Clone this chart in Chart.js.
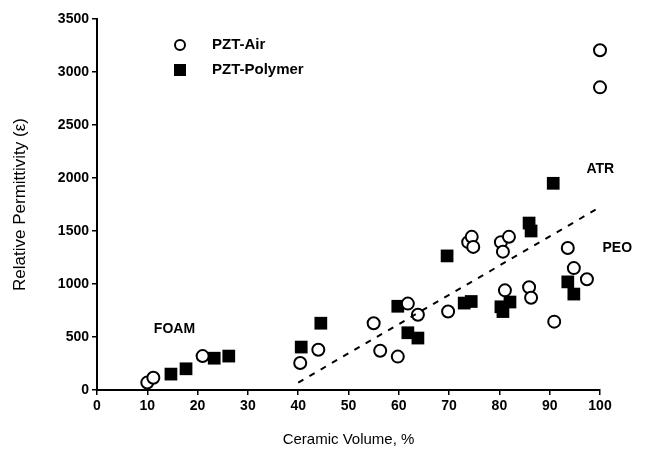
<!DOCTYPE html>
<html>
<head>
<meta charset="utf-8">
<script src="https://cdn.jsdelivr.net/npm/chart.js@4/dist/chart.umd.min.js"></script>
<style>
  html, body { margin: 0; padding: 0; background: #fff; }
  #wrap { width: 645px; height: 453px; }
</style>
</head>
<body>
<div id="wrap"><canvas id="chart" width="645" height="453"></canvas></div>
<script>
// PZT-Air (open circles)
const airX = [10, 11.2, 21, 40.4, 44, 55, 56.3, 59.8, 61.8, 63.8, 69.8, 73.8, 74.5, 74.8, 80.3, 81.9, 80.7, 81.1, 85.9, 86.3, 90.9, 93.6, 94.8, 97.4, 100, 100];
const airY = [70, 115, 320, 255, 380, 630, 370, 315, 815, 710, 740, 1395, 1445, 1350, 1395, 1445, 1305, 940, 970, 870, 645, 1340, 1150, 1045, 3205, 2855];

// PZT-Polymer (filled squares)
const polyX = [14.7, 17.7, 23.3, 26.2, 40.6, 44.5, 59.8, 61.8, 63.8, 69.6, 73, 74.4, 80.3, 80.7, 82.1, 85.9, 86.3, 90.7, 93.6, 94.8];
const polyY = [150, 200, 300, 320, 405, 630, 790, 540, 490, 1265, 820, 835, 785, 740, 830, 1575, 1500, 1950, 1020, 905];

// dashed trend line
const trendX = [40, 100];
const trendY = [70, 1725];

const xTicks = [0, 10, 20, 30, 40, 50, 60, 70, 80, 90, 100];
const yTicks = [0, 500, 1000, 1500, 2000, 2500, 3000, 3500];

const seriesNames = ['PZT-Air', 'PZT-Polymer'];
const notes = [
  { text: 'FOAM', x: 11.3, y: 570 },
  { text: 'ATR', x: 97.3, y: 2085 },
  { text: 'PEO', x: 100.5, y: 1335 }
];

function pts(xs, ys) { return xs.map((x, i) => ({ x: x, y: ys[i] })); }

const fontFam = "'Liberation Sans', Arial, sans-serif";

const extras = {
  id: 'extras',
  afterDatasetsDraw(chart) {
    const ctx = chart.ctx;
    const xs = chart.scales.x, ys = chart.scales.y;
    ctx.save();
    ctx.fillStyle = '#000';
    ctx.font = 'bold 14px ' + fontFam;
    ctx.textBaseline = 'middle';
    notes.forEach(n => {
      ctx.fillText(n.text, xs.getPixelForValue(n.x), ys.getPixelForValue(n.y));
    });
    // legend
    ctx.font = 'bold 15px ' + fontFam;
    const lx = 180, ly = [45, 70];
    ctx.lineWidth = 2;
    ctx.strokeStyle = '#000';
    ctx.fillStyle = '#fff';
    ctx.beginPath();
    ctx.arc(lx, ly[0], 5, 0, Math.PI * 2);
    ctx.fill();
    ctx.stroke();
    ctx.fillStyle = '#000';
    ctx.fillRect(lx - 6, ly[1] - 6, 12, 12);
    ctx.fillText(seriesNames[0], 212, ly[0]);
    ctx.fillText(seriesNames[1], 212, ly[1]);
    ctx.restore();
  }
};

new Chart(document.getElementById('chart'), {
  type: 'scatter',
  data: {
    datasets: [
      {
        label: 'trend',
        type: 'line',
        data: pts(trendX, trendY),
        borderColor: '#000',
        borderWidth: 2,
        borderDash: [6, 7],
        pointRadius: 0,
        fill: false
      },
      {
        label: seriesNames[0],
        data: pts(airX, airY),
        pointStyle: 'circle',
        pointRadius: 6,
        pointBorderWidth: 2,
        pointBackgroundColor: '#fff',
        pointBorderColor: '#000'
      },
      {
        label: seriesNames[1],
        data: pts(polyX, polyY),
        pointStyle: 'rect',
        pointRadius: 9,
        pointBorderWidth: 0,
        pointBackgroundColor: '#000',
        pointBorderColor: '#000'
      }
    ]
  },
  options: {
    responsive: false,
    animation: { duration: 0 },
    clip: false,
    layout: { padding: { top: 19, right: 45, left: 0, bottom: 0 } },
    plugins: { legend: { display: false }, tooltip: { enabled: false } },
    scales: {
      x: {
        type: 'linear',
        min: 0,
        max: 100,
        afterBuildTicks: s => { s.ticks = xTicks.map(v => ({ value: v })); },
        afterFit: s => { s.height = 63; },
        border: { display: true, color: '#000', width: 2 },
        grid: { display: true, drawOnChartArea: false, drawTicks: true, tickLength: 5, color: '#000', lineWidth: 1.5 },
        ticks: { color: '#000', font: { family: fontFam, size: 14, weight: 'bold' }, padding: 3, maxRotation: 0, callback: v => String(v) },
        title: { display: true, text: 'Ceramic Volume, %', color: '#000', font: { family: fontFam, size: 15 }, padding: { top: 5 } }
      },
      y: {
        type: 'linear',
        min: 0,
        max: 3500,
        afterBuildTicks: s => { s.ticks = yTicks.map(v => ({ value: v })); },
        afterFit: s => { s.width = 97; },
        border: { display: true, color: '#000', width: 2 },
        grid: { display: true, drawOnChartArea: false, drawTicks: true, tickLength: 5, color: '#000', lineWidth: 1.5 },
        ticks: { color: '#000', font: { family: fontFam, size: 14, weight: 'bold' }, padding: 3, callback: v => String(v) },
        title: { display: true, text: 'Relative Permittivity (ε)', color: '#000', font: { family: fontFam, size: 17 }, padding: { top: 10, bottom: 4 } }
      }
    }
  },
  plugins: [extras]
});
</script>
</body>
</html>
